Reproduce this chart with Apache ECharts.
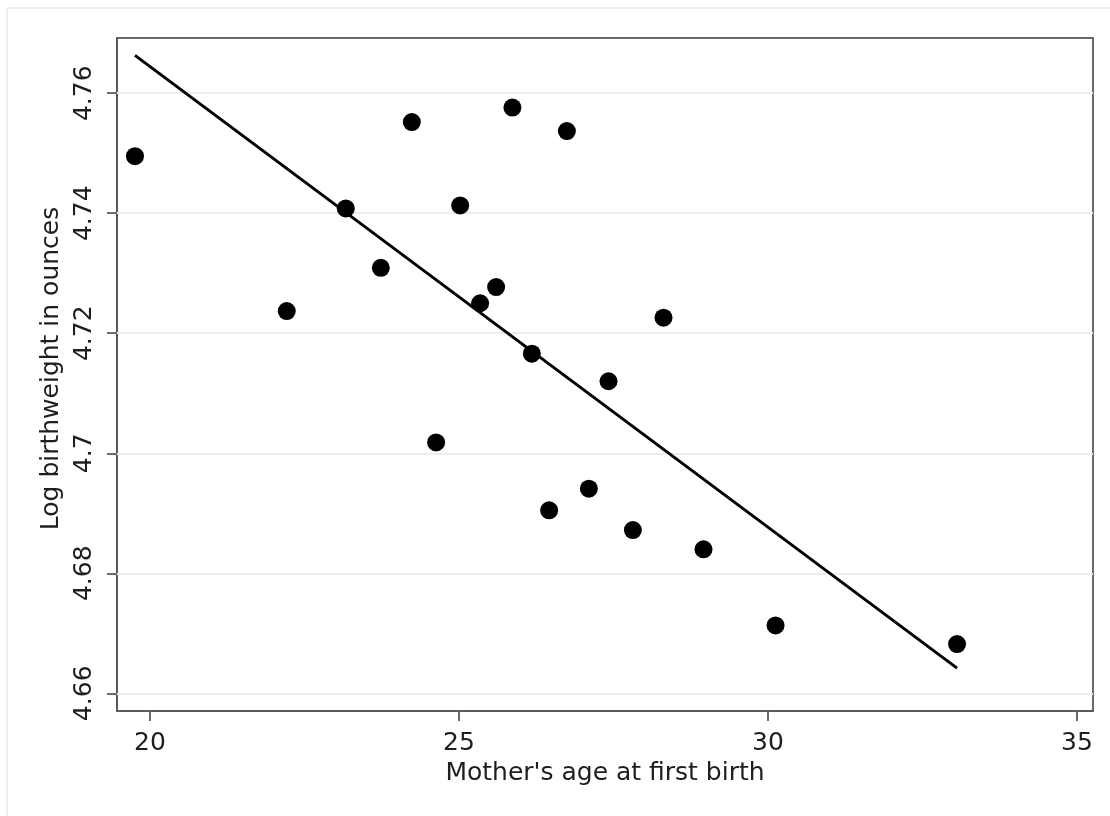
<!DOCTYPE html>
<html>
<head>
<meta charset="utf-8">
<script src="https://cdn.jsdelivr.net/npm/echarts@6/dist/echarts.min.js"></script>
<style>
html,body{margin:0;padding:0;background:#fff;}
#chart{width:1110px;height:816px;}
</style>
</head>
<body>
<div id="chart"></div>
<script>
// Mother's age at first birth (x) vs log birthweight (y)
var ageValues = [19.757, 22.213, 23.168, 23.735, 24.237, 24.630, 25.019, 25.342, 25.601, 25.865,
                 26.179, 26.459, 26.746, 27.102, 27.420, 27.814, 28.310, 28.957, 30.123, 33.060];
var logBwValues = [4.7495, 4.7237, 4.7408, 4.7309, 4.7552, 4.7018, 4.7413, 4.7250, 4.7277, 4.7576,
                   4.7166, 4.6905, 4.7537, 4.6941, 4.7120, 4.6872, 4.7226, 4.6840, 4.6713, 4.6682];
// fitted regression line endpoints
var fitX = [19.757, 33.060];
var fitY = [4.7663, 4.6642];
// tick labels
var xTicks = [20, 25, 30, 35];
var yTicks = [4.66, 4.68, 4.70, 4.72, 4.74, 4.76];

var FONT = 'DejaVu Sans';
var TXT = '#1e1e1e';

var scatterData = ageValues.map(function (x, i) { return [x, logBwValues[i]]; });
var fitData = fitX.map(function (x, i) { return [x, fitY[i]]; });

var chart = echarts.init(document.getElementById('chart'), null, {renderer: 'canvas'});
chart.setOption({
  backgroundColor: '#ffffff',
  animation: false,
  graphic: [
    {type: 'line', shape: {x1: 7, y1: 8, x2: 7, y2: 816}, style: {stroke: '#e8f0f3', lineWidth: 2}, silent: true},
    {type: 'line', shape: {x1: 7, y1: 8, x2: 1110, y2: 8}, style: {stroke: '#e8f0f3', lineWidth: 2}, silent: true}
  ],
  grid: {
    left: 117, right: 17, top: 38, bottom: 105,
    show: true, borderColor: '#6a6a6a', borderWidth: 2, backgroundColor: 'transparent'
  },
  xAxis: {
    type: 'value',
    min: 19.466, max: 35.26,
    name: "Mother's age at first birth",
    nameLocation: 'middle',
    nameGap: 46,
    nameTextStyle: {fontFamily: FONT, fontSize: 25, color: TXT},
    axisLine: {show: true, onZero: false, lineStyle: {color: '#5a5a5a', width: 2}},
    axisTick: {show: true, length: 10, customValues: xTicks, lineStyle: {color: '#6a6a6a', width: 2}},
    axisLabel: {show: true, customValues: xTicks, margin: 20, fontFamily: FONT, fontSize: 25, color: TXT},
    splitLine: {show: false}
  },
  yAxis: {
    type: 'value',
    min: 4.65705, max: 4.7692,
    name: 'Log birthweight in ounces',
    nameLocation: 'middle',
    nameGap: 47,
    nameTextStyle: {fontFamily: FONT, fontSize: 25, color: TXT, padding: [0, 0, 0, 12]},
    axisLine: {show: true, onZero: false, lineStyle: {color: '#5a5a5a', width: 2}},
    axisTick: {show: true, length: 10, customValues: yTicks, lineStyle: {color: '#6a6a6a', width: 2}},
    axisLabel: {
      show: true, customValues: yTicks, rotate: 90, margin: 20,
      fontFamily: FONT, fontSize: 25, color: TXT,
      formatter: function (v) { return String(parseFloat(v.toFixed(2))); }
    },
    splitLine: {show: false}
  },
  series: [
    {
      type: 'line',
      data: [],
      z: 1,
      silent: true,
      markLine: {
        silent: true,
        z: 1,
        symbol: 'none',
        label: {show: false},
        emphasis: {disabled: true},
        lineStyle: {color: '#e6eff2', width: 2, type: 'solid'},
        data: yTicks.map(function (v) { return {yAxis: v}; })
      }
    },
    {
      type: 'line',
      data: fitData,
      z: 6,
      symbol: 'none',
      lineStyle: {color: '#000000', width: 3},
      silent: true
    },
    {
      type: 'scatter',
      data: scatterData,
      z: 7,
      symbol: 'circle',
      symbolSize: 18,
      itemStyle: {color: '#000000', opacity: 1}
    }
  ]
});
</script>
</body>
</html>
